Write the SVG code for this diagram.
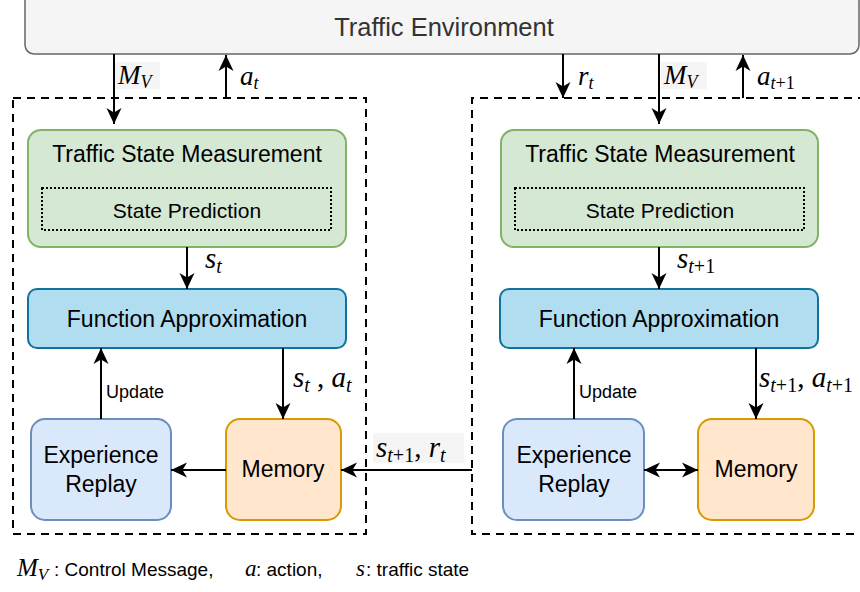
<svg xmlns="http://www.w3.org/2000/svg" width="860" height="592" viewBox="0 0 860 592">
  <style>
    .env { fill: #f5f5f5; stroke: #666666; stroke-width: 1.5; }
    .frame { fill: none; stroke: #000; stroke-width: 2; stroke-dasharray: 8 6; }
    .tsm { fill: #d5e8d4; stroke: #82b366; stroke-width: 2; }
    .pred { fill: none; stroke: #000; stroke-width: 2; stroke-dasharray: 2 2; }
    .fa { fill: #b1ddf0; stroke: #10739e; stroke-width: 2; }
    .er { fill: #dae8fc; stroke: #6c8ebf; stroke-width: 2; }
    .mem { fill: #ffe6cc; stroke: #d79b00; stroke-width: 2; }
    .lbl { font-family: "Liberation Sans", Arial, sans-serif; fill: #000; text-anchor: middle; }
    .big { font-size: 23px; }
    .mid { font-size: 21px; }
    .upd { font-family: "Liberation Sans", Arial, sans-serif; font-size: 18px; fill: #000; }
    .math { font-family: "Liberation Serif", "DejaVu Serif", serif; font-style: italic; fill: #000; }
    .up { font-size: 27px; }
    .dn { font-size: 29px; }
    .rm { font-style: normal; }
    .bg { fill: #f5f5f5; }
    .conn path { fill: none; stroke: #000; stroke-width: 2; }
  </style>
  <defs>
    <marker id="arrow" viewBox="0 0 16 16" refX="16" refY="8" markerWidth="16" markerHeight="16" markerUnits="userSpaceOnUse" orient="auto-start-reverse">
      <path d="M0,0.5 L16,8 L0,15.5 L4.5,8 Z" fill="#000"/>
    </marker>
  </defs>

  <!-- environment -->
  <g id="env">
    <rect class="env" x="25" y="-8" width="834" height="62" rx="9"/>
    <text x="444" y="36" font-family="Liberation Sans, Arial, sans-serif" font-size="25.5" fill="#333" text-anchor="middle">Traffic Environment</text>
  </g>

  <!-- agent frames -->
  <g id="agent-t">
    <rect class="frame" x="13" y="98" width="353" height="436"/>
  </g>
  <g id="agent-t1">
    <path class="frame" d="M866,98 H472 V534 H866"/>
  </g>

  <!-- left agent -->
  <g id="tsm-left">
    <rect class="tsm" x="28" y="130" width="318" height="117" rx="13"/>
    <text class="lbl big" x="187" y="162">Traffic State Measurement</text>
  </g>
  <g id="pred-left">
    <rect class="pred" x="42" y="188" width="289" height="42"/>
    <text class="lbl mid" x="187" y="218">State Prediction</text>
  </g>
  <g id="fa-left">
    <rect class="fa" x="28" y="289" width="318" height="59" rx="9"/>
    <text class="lbl big" x="187" y="327">Function Approximation</text>
  </g>
  <g id="er-left">
    <rect class="er" x="31" y="419" width="140" height="101" rx="14"/>
    <text class="lbl big" x="101" y="463">Experience</text>
    <text class="lbl big" x="101" y="492">Replay</text>
  </g>
  <g id="mem-left">
    <rect class="mem" x="226" y="419" width="115" height="101" rx="14"/>
    <text class="lbl big" x="283" y="477">Memory</text>
  </g>

  <!-- right agent -->
  <g id="tsm-right">
    <rect class="tsm" x="501" y="130" width="317" height="117" rx="13"/>
    <text class="lbl big" x="660" y="162">Traffic State Measurement</text>
  </g>
  <g id="pred-right">
    <rect class="pred" x="515" y="188" width="289" height="42"/>
    <text class="lbl mid" x="660" y="218">State Prediction</text>
  </g>
  <g id="fa-right">
    <rect class="fa" x="500" y="289" width="318" height="59" rx="9"/>
    <text class="lbl big" x="659" y="327">Function Approximation</text>
  </g>
  <g id="er-right">
    <rect class="er" x="503" y="419" width="141" height="101" rx="14"/>
    <text class="lbl big" x="574" y="463">Experience</text>
    <text class="lbl big" x="574" y="492">Replay</text>
  </g>
  <g id="mem-right">
    <rect class="mem" x="698" y="419" width="116" height="101" rx="14"/>
    <text class="lbl big" x="756" y="477">Memory</text>
  </g>

  <!-- connectors -->
  <g id="connectors" class="conn">
    <path d="M114,54 V124" marker-end="url(#arrow)"/>
    <path d="M226,98 V55" marker-end="url(#arrow)"/>
    <path d="M563,54 V98" marker-end="url(#arrow)"/>
    <path d="M659,54 V124" marker-end="url(#arrow)"/>
    <path d="M743,98 V55" marker-end="url(#arrow)"/>
    <path d="M187,247 V289" marker-end="url(#arrow)"/>
    <path d="M659,247 V289" marker-end="url(#arrow)"/>
    <path d="M101,419 V348" marker-end="url(#arrow)"/>
    <path d="M574,419 V348" marker-end="url(#arrow)"/>
    <path d="M283,348 V419" marker-end="url(#arrow)"/>
    <path d="M756,348 V419" marker-end="url(#arrow)"/>
    <path d="M226,470 H171" marker-end="url(#arrow)"/>
    <path d="M472,470 H341" marker-end="url(#arrow)"/>
    <path d="M644,470 H698" marker-start="url(#arrow)" marker-end="url(#arrow)"/>
  </g>

  <!-- connector labels -->
  <g id="labels">
    <rect class="bg" x="115" y="62" width="45" height="27"/>
    <text class="math up" x="118" y="84">M<tspan font-size="18" dy="4">V</tspan></text>
    <text class="math up" x="240" y="85">a<tspan font-size="18" dy="4">t</tspan></text>
    <text class="math up" x="578" y="85">r<tspan font-size="18" dy="4">t</tspan></text>
    <rect class="bg" x="661" y="62" width="46" height="27"/>
    <text class="math up" x="664" y="84">M<tspan font-size="18" dy="4">V</tspan></text>
    <text class="math up" x="757" y="85">a<tspan font-size="18" dy="4">t</tspan><tspan class="rm" font-size="18">+1</tspan></text>

    <text class="math dn" x="205" y="268">s<tspan font-size="20" dy="5">t</tspan></text>
    <text class="math dn" x="677" y="268">s<tspan font-size="20" dy="5">t</tspan><tspan class="rm" font-size="20">+1</tspan></text>

    <text class="math dn" x="293" y="387">s<tspan font-size="20" dy="5">t</tspan><tspan class="rm" dy="-5"> , </tspan><tspan>a</tspan><tspan font-size="20" dy="5">t</tspan></text>
    <text class="math dn" x="759" y="387">s<tspan font-size="20" dy="5">t</tspan><tspan class="rm" font-size="20">+1</tspan><tspan class="rm" dy="-5">, </tspan><tspan>a</tspan><tspan font-size="20" dy="5">t</tspan><tspan class="rm" font-size="20">+1</tspan></text>

    <rect class="bg" x="373" y="433" width="91" height="30"/>
    <text class="math dn" x="376" y="457">s<tspan font-size="20" dy="5">t</tspan><tspan class="rm" font-size="20">+1</tspan><tspan class="rm" dy="-5">, </tspan><tspan>r</tspan><tspan font-size="20" dy="5">t</tspan></text>

    <text class="upd" x="106" y="398">Update</text>
    <text class="upd" x="579" y="398">Update</text>
  </g>

  <!-- legend -->
  <g id="legend" font-family="Liberation Sans, Arial, sans-serif" font-size="19" fill="#000">
    <text class="math" x="17" y="576" font-size="25">M<tspan font-size="17" dy="4">V</tspan></text>
    <text x="54" y="576">: Control Message,</text>
    <text class="math" x="245" y="576" font-size="23">a</text>
    <text x="256" y="576">: action,</text>
    <text class="math" x="356" y="576" font-size="23">s</text>
    <text x="366" y="576">: traffic state</text>
  </g>
</svg>
